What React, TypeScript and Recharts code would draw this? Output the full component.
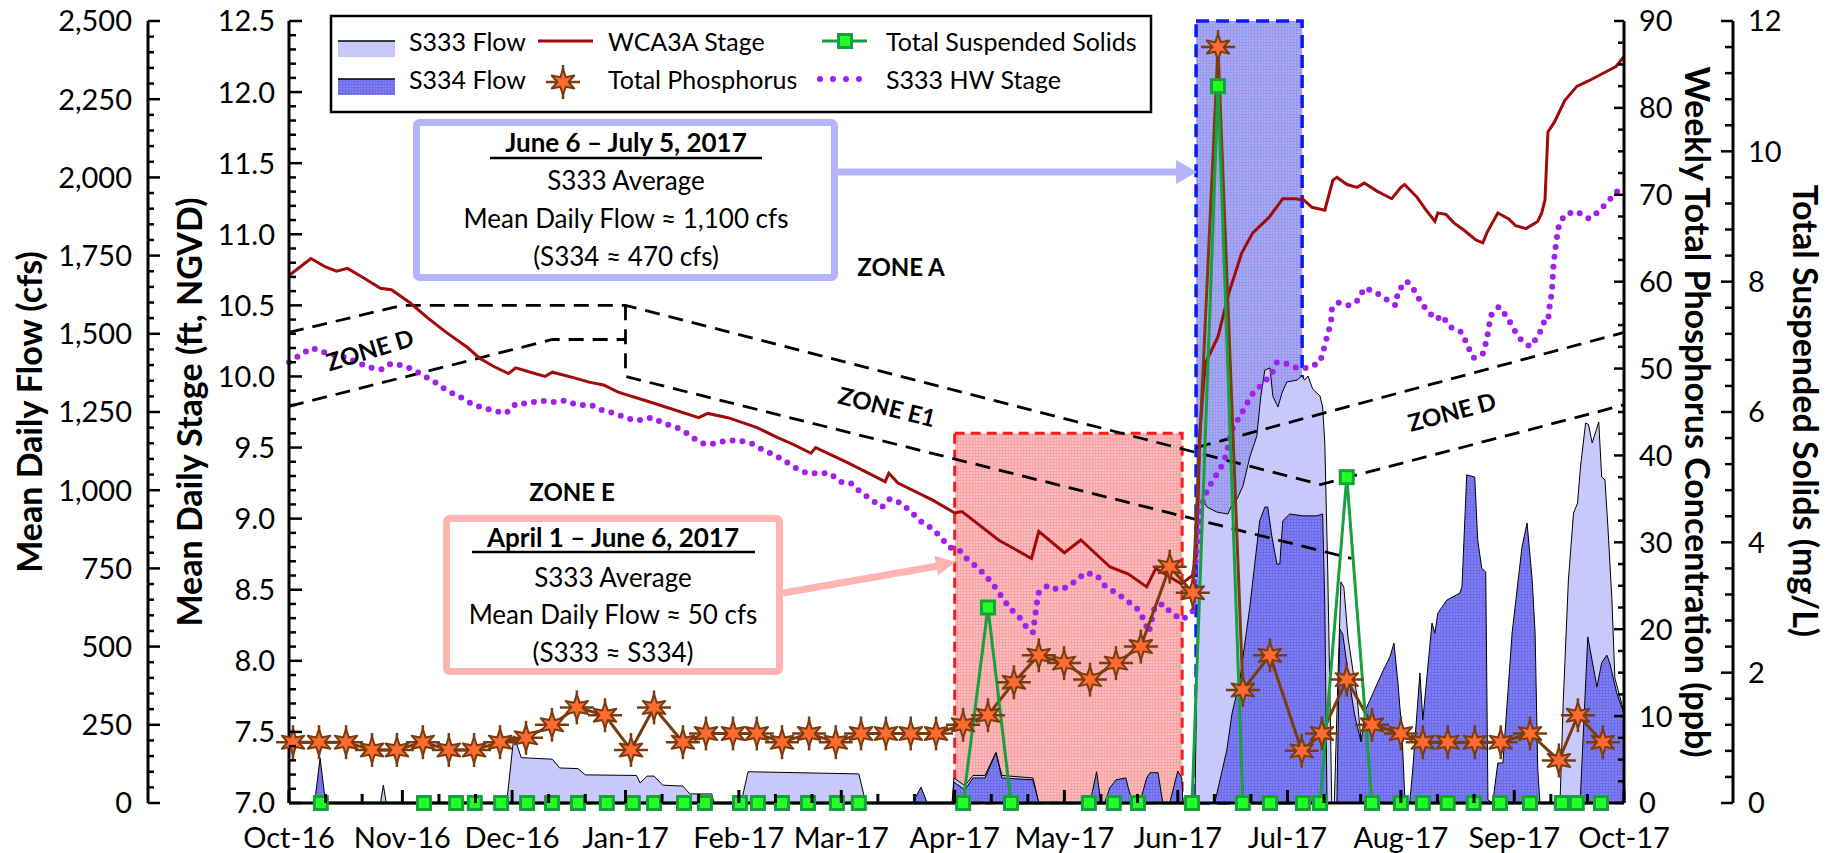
import React from "react";
import { ComposedChart, XAxis, YAxis, Line, Area, ReferenceArea } from "recharts";

const FONT = "Lato, 'Open Sans', sans-serif";

// axis ids (left axes: stage sits next to the plot, flow outside it)
const STAGE = "aStage";
const FLOW = "bFlow";
const PPB = "cPpb";
const TSS = "dTss";

// x values are days since Oct 1, 2016
const monthStarts = [0, 31, 61, 92, 123, 151, 182, 212, 243, 273, 304, 335, 365];
const monthLabels = ["Oct-16", "Nov-16", "Dec-16", "Jan-17", "Feb-17", "Mar-17", "Apr-17", "May-17", "Jun-17", "Jul-17", "Aug-17", "Sep-17", "Oct-17"];

const flowMajor = [0, 250, 500, 750, 1000, 1250, 1500, 1750, 2000, 2250, 2500];
const stageMajor = [7, 7.5, 8, 8.5, 9, 9.5, 10, 10.5, 11, 11.5, 12, 12.5];
const ppbMajor = [0, 10, 20, 30, 40, 50, 60, 70, 80, 90];
const tssMajor = [0, 2, 4, 6, 8, 10, 12];

// [day, cfs]
const s333Flow: [number, number][] = [
  [25, 0], [25.8, 57], [26.6, 0],
  [59.5, 0], [61.5, 215], [63.5, 145], [72, 140], [74, 112], [79, 110], [81, 90], [95, 88], [96, 64], [97.9, 86], [99.8, 86], [102.2, 57], [107.7, 54], [109.6, 29], [115.6, 29], [116.2, 0],
  [123.6, 0], [125.5, 100], [155.8, 93], [157.7, 0],
  [181.3, 0], [181.8, 80], [184.8, 55], [187, 88], [190.3, 88], [193.3, 162], [194.9, 88], [203.4, 80], [205, 0],
  [247.7, 0], [248.2, 400], [249.9, 969], [251, 946], [253.7, 930], [256.7, 924], [257.8, 953], [259.1, 969], [260.8, 1013], [262.7, 1106], [264.6, 1173], [265.7, 1300], [266.8, 1384], [268.2, 1391], [269, 1300], [270.4, 1266], [271.5, 1311], [272.8, 1346], [275.6, 1352], [276.9, 1365], [277.7, 1352], [278.6, 1365], [279.9, 1323], [281.9, 1301], [282.6, 1266], [283.2, 1150], [284, 742], [284.6, 342], [285.1, 0],
  [285.8, 0], [286.5, 284], [287.6, 707], [288.4, 690], [289.5, 534], [290.9, 422], [292, 342], [293.1, 200], [294, 0],
  [347.5, 0], [348.4, 329], [349.8, 713], [351.2, 927], [352.3, 959], [353.1, 1074], [354.5, 1215], [355.3, 1210], [356.3, 1151], [358.1, 1218], [358.9, 1042], [359.8, 1033], [360.6, 882], [361.7, 649], [362.5, 400], [365, 290],
];

const s334Flow: [number, number][] = [
  [7, 0], [8.5, 144], [10, 0],
  [170.5, 0], [172.8, 51], [174.5, 0],
  [181.3, 0], [181.8, 67], [184.8, 42], [187, 80], [190.3, 80], [193.3, 160], [194.9, 80], [203.4, 74], [205, 0],
  [219, 0], [220.8, 100], [222, 0],
  [223, 0], [224.4, 48], [226.1, 74], [228.8, 80], [229.4, 51], [230.7, 0],
  [232.6, 0], [234.5, 80], [235.4, 97], [237.6, 97], [238.9, 0],
  [240.8, 0], [243, 102], [244.1, 80], [244.4, 0],
  [253.1, 0], [256.4, 169], [257.8, 284], [260, 396], [262.7, 627], [265.4, 902], [266.8, 946], [267.6, 946], [268.7, 854], [270.1, 764], [270.9, 764], [271.7, 902], [273.6, 924], [277.2, 918], [281, 918], [282.6, 924], [283.2, 627], [283.8, 0],
  [286.5, 0], [287.3, 556], [288.1, 540], [289.5, 422], [291.3, 284], [293.1, 195], [294.2, 294], [296.4, 352], [299.1, 422], [301, 467], [302.1, 511], [303.2, 384], [304.3, 224], [305.1, 10], [306.4, 0],
  [307.3, 115], [309.2, 416], [310, 265], [312.5, 575], [313.3, 543], [314.1, 607], [316.6, 649], [318.2, 659], [320.1, 671], [320.7, 691], [322, 1049], [324.2, 1042], [325, 841], [326.1, 751], [327.2, 738], [327.8, 10], [329.1, 0],
  [330.5, 128], [331.9, 128], [334.4, 543], [337.1, 818], [338.5, 895], [339.9, 713], [340.7, 543], [341.4, 115], [342, 0],
  [353, 0], [355.1, 531], [357.6, 371], [358.9, 448], [360.3, 473], [361.1, 448], [363, 352], [365, 285],
];

// [day, ft NGVD]
const wca3aStage: [number, number][] = [
  [0, 10.71], [6, 10.83], [10, 10.77], [13, 10.74], [16, 10.76], [20, 10.7], [25, 10.62], [28, 10.61], [33, 10.52], [38, 10.41],
  [43, 10.31], [49, 10.2], [52, 10.13], [56, 10.07], [60, 10.02], [62, 10.06], [66, 10.03], [70, 10.0], [72, 10.03], [78, 9.99],
  [82, 9.96], [86, 9.94], [90, 9.89], [100, 9.81], [112, 9.71], [114.5, 9.74], [120, 9.71], [128, 9.64], [133.6, 9.57], [138, 9.52],
  [142.7, 9.46], [144, 9.5], [153, 9.39], [163, 9.26], [164, 9.32], [166.5, 9.25], [176, 9.13], [182, 9.04], [184, 9.05], [194, 8.85],
  [203, 8.72], [205, 8.91], [212, 8.76], [216.5, 8.85], [224.5, 8.66], [229.5, 8.61], [234.5, 8.52], [237, 8.65], [244, 8.54], [247, 8.6],
  [248, 8.75], [248.5, 9.1], [249, 9.6], [250.5, 10.09], [254, 10.28], [257, 10.59], [260.5, 10.87], [263.5, 11.01], [268, 11.12], [271.7, 11.25],
  [275.3, 11.25], [277.5, 11.24], [279.7, 11.19], [283.2, 11.17], [285.4, 11.38], [286.5, 11.4], [289.3, 11.35], [292, 11.33], [294, 11.36], [297.7, 11.3],
  [301.5, 11.25], [304, 11.33], [305, 11.35], [308.4, 11.26], [310.6, 11.18], [313.3, 11.09], [314.1, 11.15], [316.3, 11.14], [318.5, 11.08], [321.2, 11.03],
  [324.5, 10.96], [326.4, 10.94], [327.5, 11.01], [330.5, 11.15], [333.4, 11.11], [335.4, 11.06], [338.2, 11.04], [341.4, 11.09], [342.5, 11.15], [343.4, 11.24],
  [344.2, 11.72], [346, 11.79], [348.8, 11.94], [352.1, 12.04], [355.4, 12.08], [358.4, 12.12], [360.6, 12.15], [362.8, 12.18], [365, 12.25],
];

const s333HwStage: [number, number][] = [
  [0, 10.1], [3.6, 10.16], [6.3, 10.2], [9.6, 10.17], [12.8, 10.15], [16.1, 10.13], [19.4, 10.09], [22.7, 10.06], [25.4, 10.05], [27.9, 10.09],
  [30.6, 10.08], [33.9, 10.05], [37.2, 10.0], [40.5, 9.95], [43.2, 9.9], [46.5, 9.86], [49.8, 9.81], [52.8, 9.78], [56, 9.76], [59.3, 9.74],
  [62.1, 9.81], [65.3, 9.81], [68.6, 9.83], [72.4, 9.82], [75.5, 9.83], [78.7, 9.8], [82.6, 9.8], [85.8, 9.76], [89.1, 9.74], [91.9, 9.71],
  [95.1, 9.69], [99.2, 9.71], [102.5, 9.67], [106.1, 9.64], [108.8, 9.6], [112.1, 9.54], [114, 9.52], [116.7, 9.53], [119.5, 9.55], [123, 9.55],
  [126.3, 9.53], [129.9, 9.48], [132.6, 9.45], [135.3, 9.41], [138.3, 9.36], [141.6, 9.32], [144.9, 9.32], [147.9, 9.32], [150.6, 9.26], [153.6, 9.25],
  [156.1, 9.19], [159.4, 9.13], [162.1, 9.08], [164.3, 9.14], [167.3, 9.11], [170, 9.05], [172.8, 8.98], [175.8, 8.93], [178.2, 8.87], [180.4, 8.8],
  [183.2, 8.78], [185.6, 8.71], [188.1, 8.66], [190.5, 8.6], [193, 8.52], [194.9, 8.45], [197.1, 8.37], [199.6, 8.31], [201.8, 8.23], [203.4, 8.2],
  [204.5, 8.41], [205, 8.48], [207.5, 8.53], [210.2, 8.5], [213, 8.52], [215.4, 8.57], [217.9, 8.62], [220.9, 8.6], [223.3, 8.52], [226.1, 8.48],
  [228.8, 8.43], [231.8, 8.37], [233.5, 8.3], [235.1, 8.2], [236.7, 8.38], [238.9, 8.4], [241.4, 8.33], [244.4, 8.29], [247.1, 8.35], [247.7, 8.65],
  [248.5, 8.88], [249, 9.02], [249.9, 9.12], [251.2, 9.21], [253.1, 9.29], [255, 9.37], [256.4, 9.46], [257.2, 9.56], [258.1, 9.64], [260, 9.72],
  [261.9, 9.81], [263.5, 9.88], [266.3, 9.95], [268.7, 10.02], [270.1, 10.1], [272.6, 10.09], [275.6, 10.06], [278.6, 10.06], [281.9, 10.1], [282.9, 10.19],
  [283.8, 10.28], [284.9, 10.38], [285.1, 10.47], [286.8, 10.52], [289.8, 10.5], [292.5, 10.54], [293.9, 10.62], [296.6, 10.6], [299.6, 10.55], [302.6, 10.5],
  [303.2, 10.6], [305.6, 10.67], [307.8, 10.6], [309.5, 10.52], [311.6, 10.45], [313.8, 10.4], [315.2, 10.43], [317.4, 10.35], [320.7, 10.31], [322.3, 10.21],
  [323.9, 10.13], [326.4, 10.16], [327.5, 10.26], [328, 10.34], [328.6, 10.43], [330.8, 10.49], [333, 10.42], [334.9, 10.33], [336.8, 10.26], [339.3, 10.21],
  [341.7, 10.29], [343.1, 10.38], [344.2, 10.38], [344.7, 10.5], [345.3, 10.6], [345.5, 10.69], [345.7, 10.78], [346.1, 10.87], [346.6, 10.97], [347.2, 11.06],
  [348.8, 11.14], [352.1, 11.16], [355.4, 11.11], [358.1, 11.16], [360.6, 11.23], [363.1, 11.3], [363.4, 11.37],
];

// [day, ppb]
const totalPhosphorus: [number, number][] = [
  [1.1, 7.0], [8.2, 7.0], [15.6, 7.0], [22.7, 6.1], [29.5, 6.1], [36.6, 7.0], [43.7, 6.1], [50.6, 6.1], [57.7, 7.0], [64.8, 7.5],
  [71.9, 9.0], [78.7, 11.0], [86.4, 10.1], [93.5, 6.1], [99.8, 11.0], [107.7, 7.0], [114, 8.0], [121.4, 8.0], [127.9, 8.0], [134.8, 7.0],
  [142.2, 8.0], [149.5, 7.0], [156.4, 8.0], [163.2, 8.0], [170, 8.0], [176.9, 8.0], [184.3, 9.0], [191.1, 10.1], [198.2, 13.9], [205, 17.0],
  [211.9, 16.1], [219, 14.2], [226.1, 16.1], [232.9, 18.0], [240.8, 27.2], [247.1, 24.2], [254, 87.0], [260.8, 13.0], [268.2, 17.0], [276.9, 6.0],
  [282.4, 8.0], [289.2, 14.2], [296.1, 9.0], [304, 8.0], [310, 7.0], [316.8, 7.0], [324.2, 7.0], [331.3, 7.0], [339.3, 8.0], [347.2, 4.9],
  [352.4, 10.1], [359.2, 7.0],
];

// [day, mg/L]
const totalSuspendedSolids: [number, number][] = [
  [8.7, 0], [36.9, 0], [45.7, 0], [50.8, 0], [58, 0], [65.1, 0], [71.9, 0], [79, 0], [86.9, 0], [94, 0],
  [99.8, 0], [108, 0], [113.7, 0], [123.3, 0], [128.2, 0], [134.8, 0], [141.9, 0], [149.8, 0], [155.8, 0], [184.3, 0],
  [191.1, 3.0], [197.4, 0], [218.7, 0], [225.5, 0], [232.1, 0], [246.9, 0], [254, 11.0], [260.8, 0], [268.2, 0], [277.2, 0],
  [281.9, 0], [289.2, 5.0], [296.1, 0], [304, 0], [310, 0], [316.8, 0], [323.9, 0], [331.1, 0], [339.3, 0], [348, 0],
  [352.1, 0], [358.7, 0],
];

// regulation schedule zone lines [day, ft]
const zoneUpper: [number, number][] = [[0, 10.31], [31, 10.5], [92, 10.5], [282, 9.24], [365, 9.8]];
const zoneLowerLeft: [number, number][] = [[0, 9.79], [72, 10.26], [92, 10.26]];
const zoneE1E: [number, number][] = [[92, 10.5], [92, 10.0], [290.5, 8.72]];
const zoneDRight: [number, number][] = [[248, 9.5], [365, 10.31]];

// shaded periods [startDay, endDay, topStage]
const springPeriod = [182, 244.2, 9.6];
const summerPeriod = [248, 277, 12.5];

const S333_FILL = "#C8C8FA";
const WCA_COLOR = "#A00A0A";
const HW_COLOR = "#A020F0";
const TP_LINE = "#7A3C0E";
const TP_FILL = "#FF6A30";
const TSS_LINE = "#17A03D";
const TSS_FILL = "#22FF22";
const BLUE_NOTE = "#B4B4FA";
const PINK_NOTE = "#FFB4B4";

const rows = (pts: [number, number][]) => pts.map(([d, v]) => ({ d, v }));

const steps = (lo: number, hi: number, step: number) =>
  Array.from({ length: Math.round((hi - lo) / step) + 1 }, (_, i) => Math.round((lo + i * step) * 1000) / 1000);

const xTicks = monthStarts
  .flatMap((m, i) => (i < monthStarts.length - 1 ? [m, m + 10, m + 20] : [m]));

const XTick = (props: any) => {
  const { x, y, payload } = props;
  const i = monthStarts.indexOf(payload.value);
  return (
    <g>
      <line x1={x} y1={y} x2={x} y2={y - (i >= 0 ? 13 : 9)} stroke="#000" strokeWidth={3} />
      {i >= 0 && (
        <text x={x} y={y + 45} textAnchor="middle" fontFamily={FONT} fontSize={29} fill="#000">
          {monthLabels[i]}
        </text>
      )}
    </g>
  );
};

function yTick(majors: number[], fmt: (v: number) => string, dir: number, majorLen: number, minorLen: number, gap: number) {
  return (props: any) => {
    const { x, y, payload } = props;
    const v = payload.value;
    const major = majors.some((m) => Math.abs(m - v) < 1e-6);
    return (
      <g>
        <line x1={x} y1={y} x2={x + dir * (major ? majorLen : minorLen)} y2={y} stroke="#000" strokeWidth={2.5} />
        {major && (
          <text x={x - dir * gap} y={y} dy="0.36em" textAnchor={dir === 1 ? "end" : "start"} fontFamily={FONT} fontSize={29} fill="#000">
            {fmt(v)}
          </text>
        )}
      </g>
    );
  };
}

function StarMarker({ cx, cy }: { cx: number; cy: number }) {
  const pts: string[] = [];
  for (let i = 0; i < 12; i++) {
    const a = -Math.PI / 2 + (i * Math.PI) / 6;
    const r = i % 2 === 0 ? 13 : 5.5;
    pts.push(`${cx + r * Math.cos(a)},${cy + r * Math.sin(a)}`);
  }
  return (
    <g>
      <line x1={cx - 17} y1={cy} x2={cx + 17} y2={cy} stroke={TP_LINE} strokeWidth={2.5} />
      <line x1={cx} y1={cy - 17} x2={cx} y2={cy + 17} stroke={TP_LINE} strokeWidth={2.5} />
      <polygon points={pts.join(" ")} fill={TP_FILL} stroke={TP_LINE} strokeWidth={2} strokeLinejoin="round" />
    </g>
  );
}

function SquareMarker({ cx, cy }: { cx: number; cy: number }) {
  return <rect x={cx - 6.5} y={cy - 6.5} width={13} height={13} fill={TSS_FILL} stroke={TSS_LINE} strokeWidth={3} />;
}

const starDot = (p: any) => (p.cy == null ? <g key={p.index} /> : <StarMarker key={p.index} cx={p.cx} cy={p.cy} />);
const squareDot = (p: any) => (p.cy == null ? <g key={p.index} /> : <SquareMarker key={p.index} cx={p.cx} cy={p.cy} />);

// fine grid textures like the original's patterned fills
function GridPattern({ id, base, line }: { id: string; base: string; line: string }) {
  return (
    <pattern id={id} width={3} height={3} patternUnits="userSpaceOnUse">
      <rect width={3} height={3} fill={base} />
      <path d="M0 0.5H3M0.5 0V3" stroke={line} strokeWidth={1} />
    </pattern>
  );
}

const zoneLine = {
  yAxisId: STAGE,
  dataKey: "v",
  type: "linear" as const,
  stroke: "#000",
  strokeWidth: 2.8,
  strokeDasharray: "15 9",
  dot: false,
  activeDot: false,
  isAnimationActive: false,
};

export default function App() {
  const axisLine = { stroke: "#000", strokeWidth: 3 };
  return (
    <div style={{ position: "absolute", left: 0, top: 0, width: 1841, height: 853, background: "#fff" }}>
      <ComposedChart width={1841} height={853} margin={{ top: 21, right: 0, bottom: 0, left: 0 }}>
        <defs>
          <GridPattern id="patS334" base="#8080F3" line="#6C6CEA" />
          <GridPattern id="patBlueBox" base="#AAAAF4" line="#9898EE" />
          <GridPattern id="patRedBox" base="#FABCBC" line="#F4A4A4" />
        </defs>
        <ReferenceArea
          yAxisId={STAGE}
          x1={springPeriod[0]}
          x2={springPeriod[1]}
          y1={7}
          y2={springPeriod[2]}
          fill="url(#patRedBox)"
          fillOpacity={1}
          stroke="#FF1A1A"
          strokeWidth={3}
          strokeDasharray="10 6"
        />
        <ReferenceArea
          yAxisId={STAGE}
          x1={summerPeriod[0]}
          x2={summerPeriod[1]}
          y1={7}
          y2={summerPeriod[2]}
          fill="url(#patBlueBox)"
          fillOpacity={1}
          stroke="#0A1AFF"
          strokeWidth={3.5}
          strokeDasharray="13 7"
        />
        <Area yAxisId={FLOW} data={rows(s333Flow)} dataKey="v" type="linear" stroke="#000" strokeWidth={1} fill={S333_FILL} fillOpacity={1} dot={false} activeDot={false} isAnimationActive={false} />
        <Area yAxisId={FLOW} data={rows(s334Flow)} dataKey="v" type="linear" stroke="#000" strokeWidth={1} fill="url(#patS334)" fillOpacity={1} dot={false} activeDot={false} isAnimationActive={false} />

        <Line {...zoneLine} data={rows(zoneUpper)} />
        <Line {...zoneLine} data={rows(zoneLowerLeft)} />
        <Line {...zoneLine} data={rows(zoneE1E)} />
        <Line {...zoneLine} data={rows(zoneDRight)} />

        <Line yAxisId={STAGE} data={rows(wca3aStage)} dataKey="v" type="linear" stroke={WCA_COLOR} strokeWidth={3} dot={false} activeDot={false} isAnimationActive={false} />
        <Line yAxisId={STAGE} data={rows(s333HwStage)} dataKey="v" type="linear" stroke={HW_COLOR} strokeWidth={6} strokeDasharray="0 10" strokeLinecap="round" dot={false} activeDot={false} isAnimationActive={false} />
        <Line yAxisId={PPB} data={rows(totalPhosphorus)} dataKey="v" type="linear" stroke={TP_LINE} strokeWidth={3} dot={starDot} activeDot={false} isAnimationActive={false} />
        <Line yAxisId={TSS} data={rows(totalSuspendedSolids)} dataKey="v" type="linear" stroke={TSS_LINE} strokeWidth={3} dot={squareDot} activeDot={false} isAnimationActive={false} />

        <XAxis
          type="number"
          dataKey="d"
          domain={[0, 365]}
          ticks={xTicks}
          interval={0}
          height={50}
          tickLine={false}
          tickSize={0}
          tickMargin={0}
          axisLine={axisLine}
          tick={XTick}
        />
        <YAxis
          yAxisId={STAGE}
          orientation="left"
          width={141}
          domain={[7, 12.5]}
          ticks={steps(7, 12.5, 0.1)}
          interval={0}
          tickLine={false}
          tickSize={0}
          tickMargin={0}
          axisLine={axisLine}
          tick={yTick(stageMajor, (v) => v.toFixed(1), 1, 13, 7, 14)}
        />
        <YAxis
          yAxisId={FLOW}
          orientation="left"
          width={148}
          domain={[0, 2500]}
          ticks={steps(0, 2500, 50)}
          interval={0}
          tickLine={false}
          tickSize={0}
          tickMargin={0}
          axisLine={axisLine}
          tick={yTick(flowMajor, (v) => v.toLocaleString("en-US"), 1, 12, 6, 16)}
        />
        <YAxis
          yAxisId={PPB}
          orientation="right"
          width={109}
          domain={[0, 90]}
          ticks={steps(0, 90, 2.5)}
          interval={0}
          tickLine={false}
          tickSize={0}
          tickMargin={0}
          axisLine={axisLine}
          tick={yTick(ppbMajor, (v) => String(v), -1, 10, 6, 15)}
        />
        <YAxis
          yAxisId={TSS}
          orientation="right"
          width={108}
          domain={[0, 12]}
          ticks={steps(0, 12, 0.4)}
          interval={0}
          tickLine={false}
          tickSize={0}
          tickMargin={0}
          axisLine={axisLine}
          tick={yTick(tssMajor, (v) => String(v), -1, 12, 8, 15)}
        />
      </ComposedChart>

      <svg width={1841} height={853} style={{ position: "absolute", left: 0, top: 0, pointerEvents: "none" }} fontFamily={FONT}>
        {/* axis titles */}
        <text transform="translate(42,412) rotate(-90)" textAnchor="middle" fontSize={34} fontWeight={700}>Mean Daily Flow (cfs)</text>
        <text transform="translate(202,412) rotate(-90)" textAnchor="middle" fontSize={34} fontWeight={700}>Mean Daily Stage (ft, NGVD)</text>
        <text transform="translate(1685,412) rotate(90)" textAnchor="middle" fontSize={34} fontWeight={700}>Weekly Total Phosphorus Concentration (ppb)</text>
        <text transform="translate(1793,411) rotate(90)" textAnchor="middle" fontSize={34} fontWeight={700}>Total Suspended Solids (mg/L)</text>

        {/* zone labels */}
        <g fontSize={24} fontWeight={700} textAnchor="middle">
          <text transform="translate(370,350) rotate(-17)" dy="0.36em">ZONE D</text>
          <text x={901} y={267} dy="0.36em">ZONE A</text>
          <text transform="translate(887,407) rotate(14)" dy="0.36em">ZONE E1</text>
          <text x={572} y={492} dy="0.36em">ZONE E</text>
          <text transform="translate(1452,412) rotate(-15)" dy="0.36em">ZONE D</text>
        </g>

        {/* legend */}
        <rect x={331} y={16} width={820} height={96} fill="#fff" stroke="#000" strokeWidth={2.5} />
        <rect x={338} y={41} width={57} height={16} fill={S333_FILL} />
        <line x1={338} y1={41} x2={395} y2={41} stroke="#000" strokeWidth={1.5} />
        <rect x={338} y={79} width={57} height={16} fill="url(#patS334)" />
        <line x1={338} y1={79} x2={395} y2={79} stroke="#000" strokeWidth={1.5} />
        <line x1={538} y1={41} x2={593} y2={41} stroke={WCA_COLOR} strokeWidth={3} />
        <StarMarker cx={563} cy={82} />
        <line x1={822} y1={41} x2={867} y2={41} stroke={TSS_LINE} strokeWidth={3} />
        <SquareMarker cx={845} cy={41} />
        <line x1={820} y1={79} x2={861} y2={79} stroke={HW_COLOR} strokeWidth={6} strokeDasharray="0 13" strokeLinecap="round" />
        <g fontSize={25}>
          <text x={409} y={51}>S333 Flow</text>
          <text x={409} y={89}>S334 Flow</text>
          <text x={608} y={51}>WCA3A Stage</text>
          <text x={608} y={89}>Total Phosphorus</text>
          <text x={886} y={51}>Total Suspended Solids</text>
          <text x={886} y={89}>S333 HW Stage</text>
        </g>

        {/* June 6 - July 5 note */}
        <line x1={838} y1={172} x2={1180} y2={172} stroke={BLUE_NOTE} strokeWidth={7} />
        <polygon points="1176,160 1197,172 1176,184" fill={BLUE_NOTE} />
        <rect x={416.5} y={122.5} width={418} height={155} rx={3} fill="#fff" stroke={BLUE_NOTE} strokeWidth={7} />
        <g fontSize={26} textAnchor="middle">
          <text x={626} y={152} fontWeight={700}>June 6 – July 5, 2017</text>
          <text x={626} y={190}>S333 Average</text>
          <text x={626} y={228}>Mean Daily Flow ≈ 1,100 cfs</text>
          <text x={626} y={266}>(S334 ≈ 470 cfs)</text>
        </g>
        <line x1={490} y1={158} x2={762} y2={158} stroke="#000" strokeWidth={2.5} />

        {/* April 1 - June 6 note */}
        <line x1={783} y1={593} x2={938} y2={566} stroke={PINK_NOTE} strokeWidth={7} />
        <polygon points="956,562 934.5,555.7 938.1,575.3" fill={PINK_NOTE} />
        <rect x={446.5} y={518.5} width={333} height={153} rx={3} fill="#fff" stroke={PINK_NOTE} strokeWidth={7} />
        <g fontSize={26} textAnchor="middle">
          <text x={613} y={547} fontWeight={700}>April 1 – June 6, 2017</text>
          <text x={613} y={587}>S333 Average</text>
          <text x={613} y={624}>Mean Daily Flow ≈ 50 cfs</text>
          <text x={613} y={662}>(S333 ≈ S334)</text>
        </g>
        <line x1={472} y1={552} x2={755} y2={552} stroke="#000" strokeWidth={2.5} />
      </svg>
    </div>
  );
}
